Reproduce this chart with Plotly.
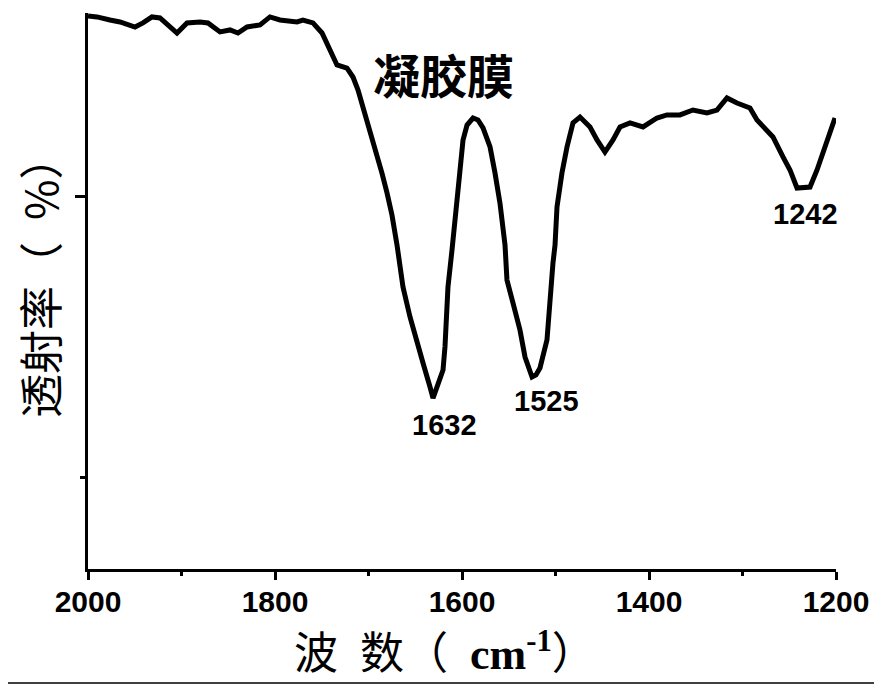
import plotly.graph_objects as go

# IR spectrum of the gel film (transmittance in arbitrary units)
wavenumber = [2000, 1990.4, 1976.5, 1965.8, 1949.7, 1941.2, 1931.6, 1923.0, 1904.8, 1894.1,
              1880.2, 1871.7, 1858.8, 1848.1, 1839.6, 1829.9, 1816.0, 1805.4, 1794.7, 1776.5,
              1770.1, 1759.4, 1749.7, 1744.4, 1739.0, 1733.7, 1723.0, 1716.6, 1711.2, 1705.9,
              1698.4, 1690.9, 1685.6, 1680.2, 1674.9, 1669.5, 1663.1, 1655.6, 1648.1, 1641.7,
              1634.2, 1631.0, 1626.7, 1620.3, 1618.2, 1616.1, 1615.0, 1610.7, 1607.5, 1602.1,
              1598.9, 1594.6, 1588.2, 1582.9, 1577.5, 1570.0, 1564.7, 1559.4, 1554.0, 1551.9,
              1545.5, 1538.0, 1532.6, 1525.1, 1520.9, 1516.6, 1509.1, 1505.9, 1502.7, 1500.5,
              1498.4, 1493.1, 1487.7, 1481.3, 1473.8, 1463.1, 1455.6, 1447.1, 1438.5, 1431.0,
              1420.3, 1406.4, 1391.5, 1380.8, 1366.9, 1353.0, 1338.0, 1327.3, 1316.6, 1305.9,
              1292.0, 1284.5, 1267.4, 1256.7, 1249.2, 1241.7, 1227.8, 1220.3, 1209.6, 1201.1]
transmittance = [92.93, 92.86, 92.64, 92.5, 92.14, 92.43, 92.86, 92.79, 91.71, 92.43,
                 92.5, 92.43, 91.79, 91.93, 91.71, 92.14, 92.29, 92.86, 92.64, 92.5,
                 92.64, 92.43, 91.71, 91.0, 90.14, 89.43, 89.21, 88.57, 87.64, 86.43,
                 84.57, 83.14, 81.71, 80.29, 78.71, 76.57, 73.57, 71.43, 69.79, 68.14,
                 66.43, 65.64, 66.43, 67.64, 69.29, 71.71, 73.57, 76.21, 78.71, 81.93,
                 84.07, 85.14, 85.64, 85.5, 84.93, 83.57, 81.71, 79.57, 76.57, 74.07,
                 72.43, 70.5, 68.57, 67.14, 67.29, 67.79, 69.79, 72.86, 75.29, 76.57,
                 79.29, 81.71, 83.57, 85.29, 85.71, 85.0, 84.07, 83.21, 84.07, 85.0,
                 85.29, 85.0, 85.64, 85.86, 85.86, 86.21, 86.0, 86.21, 87.07, 86.71,
                 86.36, 85.5, 84.29, 82.86, 81.93, 80.64, 80.71, 81.93, 84.07, 85.64]

peak_labels = ["1632", "1525", "1242"]
peak_x = [1618.2, 1509.1, 1232.1]
peak_y = [63.7, 65.4, 78.8]

sample_name = "凝胶膜"
x_title = "波\u2002数（\u2002<span style=\"font-family:'Liberation Serif'\"><b>cm<sup>-1</sup></b></span>）"
y_title = "透射率（\u2002%）"

fig = go.Figure()
fig.add_trace(go.Scatter(x=wavenumber, y=transmittance, mode="lines",
                         line=dict(color="black", width=5), showlegend=False))

for lab, px_, py_ in zip(peak_labels, peak_x, peak_y):
    fig.add_annotation(x=px_, y=py_, text=lab, showarrow=False,
                       font=dict(family="Liberation Sans", size=29, color="black", weight="bold"))

fig.add_annotation(x=1620.3, y=88.85, text=sample_name, showarrow=False,
                   font=dict(family="Noto Sans CJK SC", size=47, color="black", weight="bold"))

fig.add_annotation(xref="paper", yref="paper", x=0.477, y=-0.145, text=x_title,
                   showarrow=False, xanchor="center", yanchor="middle",
                   font=dict(family="Noto Sans CJK SC", size=44, color="black"))
fig.add_annotation(xref="paper", yref="paper", x=-0.0655, y=0.525, text=y_title,
                   showarrow=False, textangle=-90, xanchor="center", yanchor="middle",
                   font=dict(family="Noto Sans CJK SC", size=44, color="black"))

# thin frame line at the very bottom of the picture
fig.add_shape(type="line", xref="paper", yref="paper", x0=-0.118, x1=1.062,
              y0=-0.205, y1=-0.205, line=dict(color="black", width=1.5))

fig.update_xaxes(range=[2000, 1200], showgrid=False, zeroline=False,
                 showline=True, linecolor="black", linewidth=3,
                 ticks="outside", tickcolor="black", tickwidth=3, ticklen=8,
                 tick0=2000, dtick=200, ticklabelstandoff=-4,
                 minor=dict(dtick=100, ticks="outside", ticklen=4, tickwidth=3, tickcolor="black"),
                 tickfont=dict(family="Liberation Sans", size=30, color="black", weight="bold"))
fig.update_yaxes(range=[53.43, 93.14], showgrid=False, zeroline=False,
                 showline=True, linecolor="black", linewidth=3,
                 ticks="outside", tickcolor="black", tickwidth=3, ticklen=10,
                 tick0=0, dtick=40, showticklabels=False,
                 minor=dict(dtick=20, ticks="outside", ticklen=5, tickwidth=3, tickcolor="black"))

# the page adds an 8px body margin, so the figure is 8px smaller than the window
fig.update_layout(width=874, height=677,
                  margin=dict(l=80, r=46, t=5, b=116),
                  plot_bgcolor="white", paper_bgcolor="white")

fig.write_html("out.html")
